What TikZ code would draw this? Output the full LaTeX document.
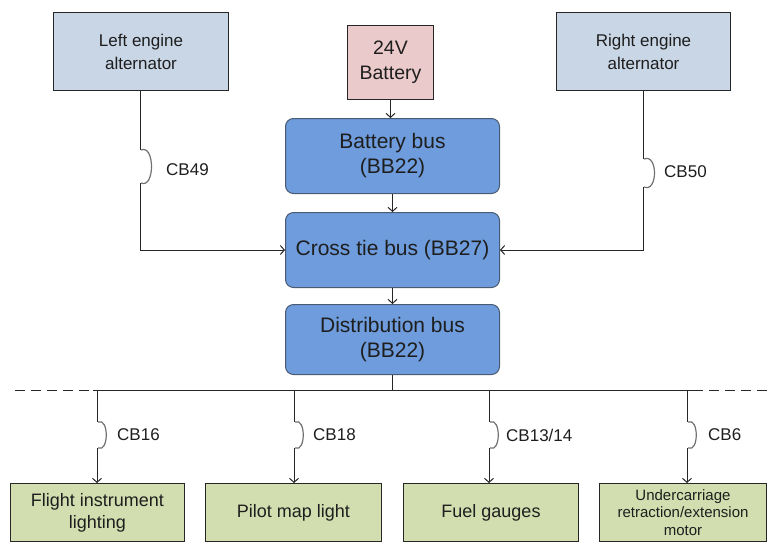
\documentclass[tikz,border=0pt]{standalone}
\usepackage{fontspec}
\setmainfont{Liberation Sans}
\usetikzlibrary{arrows.meta}
\definecolor{altfill}{HTML}{C9D6E6}
\definecolor{batfill}{HTML}{EACACA}
\definecolor{busfill}{HTML}{6E9CDC}
\definecolor{busdraw}{HTML}{4A5A72}
\definecolor{loadfill}{HTML}{D2DEB0}
\definecolor{txt}{HTML}{1E1E1E}
\definecolor{cbarc}{HTML}{707070}
\tikzset{
  box/.style={draw=black!85, line width=1pt, text=txt, align=center, inner sep=0pt, anchor=north west},
  altbox/.style={box, fill=altfill, font=\fontsize{17}{23}\selectfont},
  batbox/.style={box, fill=batfill, font=\fontsize{19.5}{25}\selectfont},
  busbox/.style={box, draw=busdraw, fill=busfill, rounded corners=8pt, font=\fontsize{21}{25}\selectfont},
  loadbox/.style={box, fill=loadfill, font=\fontsize{18}{22}\selectfont},
  wire/.style={draw=black!85, line width=1pt},
  arr/.style={wire, -{Straight Barb[length=4pt,width=9pt]}},
  cb/.style={draw=cbarc, line width=1.2pt},
  cblabel/.style={anchor=west, text=txt, font=\fontsize{17}{19}\selectfont, inner sep=0pt},
}
\begin{document}
\begin{tikzpicture}[x=1pt,y=-1pt]
\useasboundingbox (0,0) rectangle (768,542);
% sources
\node[altbox, minimum width=175pt, minimum height=78pt] (la) at (53,12) {Left engine\\alternator};
\node[altbox, minimum width=174pt, minimum height=78pt] (ra) at (556,12) {Right engine\\alternator};
\node[batbox, minimum width=86pt, minimum height=74pt] (bat) at (347,25) {24V\\Battery};
% buses
\node[busbox, minimum width=214pt, minimum height=75pt] (bb) at (285,118) {Battery bus\\(BB22)};
\node[busbox, minimum width=214pt, minimum height=75pt] (ct) at (285,212) {Cross tie bus (BB27)};
\node[busbox, minimum width=214pt, minimum height=70pt] (db) at (285,304) {Distribution bus\\(BB22)};
% loads
\node[loadbox, minimum width=174pt, minimum height=58pt] (l1) at (10,483) {Flight instrument\\lighting};
\node[loadbox, minimum width=176pt, minimum height=58pt] (l2) at (205,483) {Pilot map light};
\node[loadbox, minimum width=175pt, minimum height=58pt] (l3) at (403,483) {Fuel gauges};
\node[loadbox, minimum width=167pt, minimum height=58pt, font=\fontsize{15}{17.5}\selectfont] (l4) at (599,483) {Undercarriage\\retraction/extension\\motor};
% battery chain
\draw[arr] (bat.south) -- (bb.north -| bat.south);
\draw[arr] (bb.south) -- (ct.north);
\draw[arr] (ct.south) -- (db.north);
% alternator breakers
\coordinate (cb49t) at (140,150);
\coordinate (cb49b) at (140,183);
\coordinate (cb50t) at (643,159);
\coordinate (cb50b) at (643,187);
\draw[wire] (la.south -| cb49t) -- (cb49t);
\draw[cb] ([xshift=1pt]cb49t) .. controls ([xshift=15pt,yshift=6pt]cb49t) and ([xshift=15pt,yshift=-6pt]cb49b) .. ([xshift=1pt]cb49b);
\draw[arr] (cb49b) |- (ct.west);
\node[cblabel] (t49) at (166,170) {CB49};
\draw[wire] (ra.south -| cb50t) -- (cb50t);
\draw[cb] ([xshift=1pt]cb50t) .. controls ([xshift=15pt,yshift=6pt]cb50t) and ([xshift=15pt,yshift=-6pt]cb50b) .. ([xshift=1pt]cb50b);
\draw[arr] (cb50b) |- (ct.east);
\node[cblabel] (t50) at (664,172) {CB50};
% distribution line
\coordinate (hl) at (93,390);
\coordinate (hr) at (703,390);
\coordinate (dl) at (15,390);
\coordinate (dr) at (768,390);
\draw[wire] (db.south) -- (db.south |- hl);
\draw[wire] (hl) -- (hr);
\draw[wire, dash pattern=on 10pt off 6pt] (dl) -- (hl);
\draw[wire, dash pattern=on 10pt off 6pt] ([xshift=6pt]hr) -- (dr);
% load breakers
\foreach \n/\x/\lab/\tgt/\lx in {16/97/CB16/l1/117, 18/294/CB18/l2/313, 13/489/CB13\slash 14/l3/506, 6/687/CB6/l4/708}{
  \coordinate (cb\n t) at (\x,422);
  \coordinate (cb\n b) at (\x,448);
  \draw[wire] (hl -| cb\n t) -- (cb\n t);
  \draw[cb] ([xshift=1pt]cb\n t) .. controls ([xshift=12pt,yshift=5pt]cb\n t) and ([xshift=12pt,yshift=-5pt]cb\n b) .. ([xshift=1pt]cb\n b);
  \draw[arr] (cb\n b) -- (cb\n b |- \tgt.north);
  \node[cblabel] (t\n) at (\lx,435) {\lab};
}
\end{tikzpicture}
\end{document}
